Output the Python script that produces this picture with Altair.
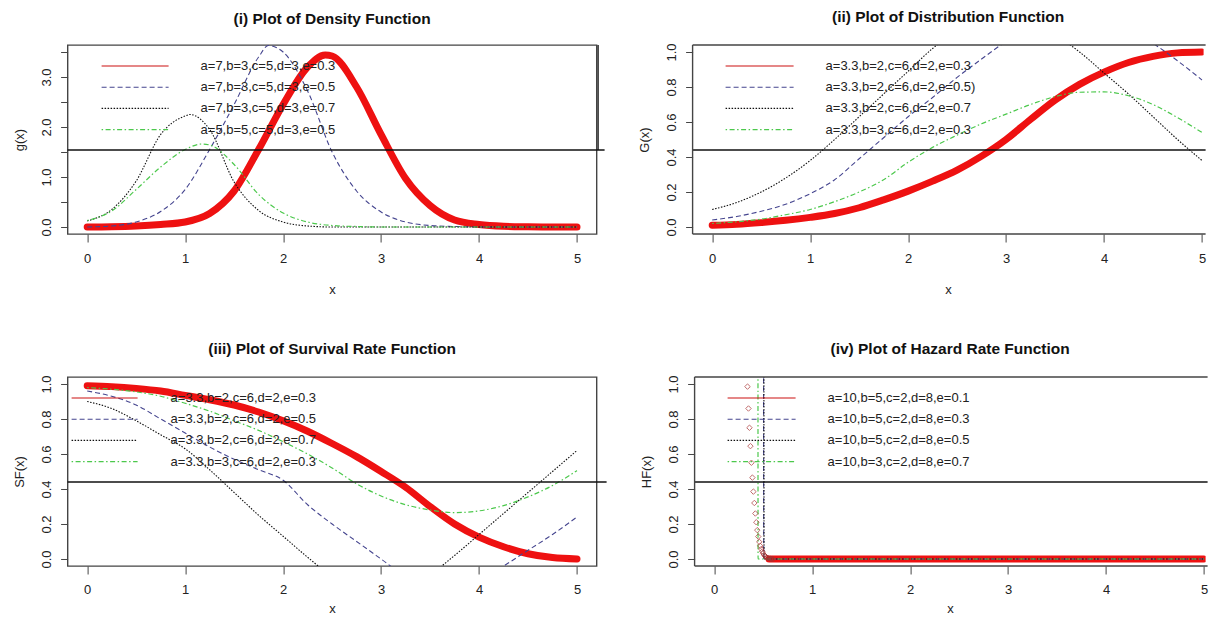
import altair as alt
import pandas as pd

FONT = "Liberation Sans"
TXT = "#222222"
AXC = "#444444"

# ---------------- data ----------------
X_GRID = [0.0, 0.25, 0.5, 0.75, 1.0, 1.25, 1.5, 1.75, 2.0, 2.25, 2.5,
          2.75, 3.0, 3.25, 3.5, 3.75, 4.0, 4.25, 4.5, 4.75, 5.0]

# (i) density g(x)
g_red_x = [0.0, 0.25, 0.5, 0.75, 1.0, 1.25, 1.5, 1.75, 2.0, 2.25, 2.43, 2.5,
           2.75, 3.0, 3.25, 3.5, 3.75, 4.0, 4.25, 4.5, 4.75, 5.0]
g_red_y = [0.0, 0.005, 0.02, 0.05, 0.1, 0.27, 0.72, 1.55, 2.45, 3.2, 3.44, 3.42,
           2.8, 1.85, 0.97, 0.43, 0.14, 0.05, 0.015, 0.005, 0.0, 0.0]
g_blue_x = [0.0, 0.25, 0.5, 0.75, 1.0, 1.25, 1.5, 1.75, 1.85, 2.0, 2.25, 2.5,
            2.75, 3.0, 3.25, 3.5, 3.75, 4.0, 4.5, 5.0]
g_blue_y = [0.0, 0.02, 0.1, 0.31, 0.75, 1.55, 2.45, 3.4, 3.63, 3.5, 2.72, 1.5,
            0.72, 0.3, 0.1, 0.03, 0.01, 0.0, 0.0, 0.0]
g_black_x = [0.0, 0.25, 0.5, 0.75, 1.0, 1.05, 1.25, 1.5, 1.75, 2.0, 2.25, 2.5,
             3.0, 4.0, 5.0]
g_black_y = [0.12, 0.35, 0.92, 1.85, 2.22, 2.25, 1.95, 0.9, 0.33, 0.1, 0.02, 0.0,
             0.0, 0.0, 0.0]
g_green_x = [0.0, 0.25, 0.5, 0.75, 1.0, 1.17, 1.25, 1.5, 1.75, 2.0, 2.25, 2.5,
             2.75, 3.0, 4.0, 5.0]
g_green_y = [0.13, 0.32, 0.75, 1.2, 1.55, 1.66, 1.64, 1.25, 0.65, 0.28, 0.1, 0.03,
             0.01, 0.0, 0.0, 0.0]

# (ii) distribution G(x)
G_red = [0.01, 0.015, 0.025, 0.038, 0.055, 0.077, 0.11, 0.155, 0.205, 0.262, 0.325,
         0.405, 0.5, 0.615, 0.725, 0.815, 0.885, 0.94, 0.975, 0.995, 1.0]
G_blue = [0.04, 0.06, 0.09, 0.13, 0.19, 0.27, 0.39, 0.51, 0.63, 0.74, 0.855,
          0.96, 1.06, 1.14, 1.2, 1.22, 1.2, 1.14, 1.05, 0.95, 0.84]
G_black = [0.1, 0.14, 0.2, 0.28, 0.38, 0.5, 0.63, 0.76, 0.89, 1.02, 1.12,
           1.18, 1.2, 1.18, 1.1, 1.0, 0.88, 0.76, 0.63, 0.5, 0.38]
G_green = [0.02, 0.03, 0.045, 0.07, 0.1, 0.145, 0.2, 0.27, 0.37, 0.455, 0.525,
           0.59, 0.645, 0.7, 0.745, 0.77, 0.772, 0.75, 0.7, 0.625, 0.54]

# (iii) survival SF(x)
S_red = [0.99, 0.985, 0.975, 0.96, 0.935, 0.91, 0.88, 0.84, 0.79, 0.73, 0.66,
         0.585, 0.5, 0.41, 0.3, 0.2, 0.125, 0.07, 0.03, 0.008, 0.0]
S_blue = [0.96, 0.93, 0.88, 0.8, 0.72, 0.64, 0.57, 0.51, 0.45, 0.31, 0.2,
          0.1, 0.0, -0.1, -0.16, -0.17, -0.12, -0.04, 0.05, 0.14, 0.24]
S_black = [0.9, 0.86, 0.79, 0.71, 0.63, 0.51, 0.38, 0.25, 0.13, 0.01, -0.1,
           -0.17, -0.2, -0.17, -0.09, 0.02, 0.14, 0.26, 0.38, 0.5, 0.62]
S_green = [0.98, 0.97, 0.955, 0.93, 0.89, 0.845, 0.79, 0.735, 0.67, 0.6, 0.52,
           0.43, 0.36, 0.31, 0.28, 0.265, 0.275, 0.305, 0.355, 0.42, 0.505]

# (iv) hazard HF(x)
H_red_x = [0.34, 0.35, 0.36, 0.37, 0.38, 0.39, 0.40, 0.41, 0.42, 0.43, 0.44, 0.45,
           0.46, 0.47, 0.48, 0.49, 0.50, 0.51, 0.52, 0.53, 0.54, 0.55, 0.56, 0.57,
           0.58, 0.59, 0.60]
H_red_y = [0.985, 0.86, 0.75, 0.645, 0.55, 0.465, 0.385, 0.32, 0.26, 0.21, 0.165,
           0.128, 0.098, 0.075, 0.057, 0.043, 0.032, 0.023, 0.016, 0.011, 0.007,
           0.005, 0.003, 0.002, 0.001, 0.0, 0.0]
H_red_tail_x = [0.56, 5.0]
H_red_tail_y = [0.0, 0.0]
H_blue_x = [0.503, 0.506, 5.0]
H_blue_y = [3.0, 0.0, 0.0]
H_black_x = [0.506, 0.509, 5.0]
H_black_y = [3.0, 0.0, 0.0]
H_green_x = [0.446, 0.448, 5.0]
H_green_y = [3.0, 0.0, 0.0]

LEG_I = ["a=7,b=3,c=5,d=3,e=0.3", "a=7,b=3,c=5,d=3,e=0.5",
         "a=7,b=3,c=5,d=3,e=0.7", "a=5,b=5,c=5,d=3,e=0.5"]
LEG_II = ["a=3.3,b=2,c=6,d=2,e=0.3", "a=3.3,b=2,c=6,d=2,e=0.5)",
          "a=3.3,b=2,c=6,d=2,e=0.7", "a=3.3,b=3,c=6,d=2,e=0.3"]
LEG_III = ["a=3.3,b=2,c=6,d=2,e=0.3", "a=3.3,b=2,c=6,d=2,e=0.5",
           "a=3.3,b=2,c=6,d=2,e=0.7", "a=3.3,b=3,c=6,d=2,e=0.3"]
LEG_IV = ["a=10,b=5,c=2,d=8,e=0.1", "a=10,b=5,c=2,d=8,e=0.3",
          "a=10,b=5,c=2,d=8,e=0.5", "a=10,b=3,c=2,d=8,e=0.7"]

X_TICKS = [0, 1, 2, 3, 4, 5]
Y_TICKS_I = [0.0, 0.5, 1.0, 1.5, 2.0, 2.5, 3.0, 3.5]
Y_TICKS_P = [0.0, 0.2, 0.4, 0.6, 0.8, 1.0]

# ---------------- styles ----------------
KEYS = ["red", "blue", "black", "green"]
STY = {
    "red": dict(color="#ee1111", w=7, dash=None),
    "blue": dict(color="#45458f", w=1.1, dash=[5, 3]),
    "black": dict(color="#111111", w=1.1, dash=[1.5, 1.5]),
    "green": dict(color="#4cc84c", w=1.2, dash=[1.5, 2.5, 5, 2.5]),
}
LEG_COL = {"red": "#cc1111", "blue": "#45458f", "black": "#111111", "green": "#4cc84c"}

PH = 189


def make_panel(title, ytitle, ydom, yticks, ylabel_expr, series, labels, width,
               xdom, leg_x0, leg_x1, leg_tx, rule_ext, right_edge, xtitle_pad,
               open_right=False, points=None):
    xa = alt.Axis(values=X_TICKS, tickSize=8, labelPadding=10, domain=False,
                  grid=False, labelFont=FONT, labelFontSize=13, labelColor=TXT,
                  tickColor=AXC, labelFlush=False, labelOverlap=False,
                  title="x", titleFont=FONT, titleFontSize=13,
                  titleFontWeight="normal", titleColor=TXT,
                  titlePadding=xtitle_pad)
    ya = alt.Axis(values=yticks, labelExpr=ylabel_expr, tickSize=7,
                  labelAngle=270, labelAlign="center", labelBaseline="bottom",
                  labelPadding=7.5, domain=False, grid=False, labelFont=FONT,
                  labelFontSize=13, labelColor=TXT, tickColor=AXC,
                  labelFlush=False, labelOverlap=False, title=ytitle,
                  titleFont=FONT, titleFontSize=13, titleFontWeight="normal",
                  titleColor=TXT, titlePadding=14)
    xs_ = alt.Scale(domain=xdom, nice=False, zero=False)
    ys_ = alt.Scale(domain=ydom, nice=False, zero=False)

    def enc():
        return dict(x=alt.X("x:Q", scale=xs_, axis=xa), y=alt.Y("y:Q", scale=ys_, axis=ya))

    layers = []
    for key, xs, ys in series:
        st = STY[key]
        df = pd.DataFrame({"x": xs, "y": ys})
        kw = dict(clip=True, interpolate="monotone", color=st["color"],
                  strokeWidth=st["w"], strokeCap="round" if key == "red" else "butt")
        if st["dash"]:
            kw["strokeDash"] = st["dash"]
        layers.append(alt.Chart(df).mark_line(**kw).encode(**enc()))
    if points is not None:
        xs, ys = points
        df = pd.DataFrame({"x": xs, "y": ys})
        layers.append(alt.Chart(df).mark_point(shape="diamond", size=30, filled=False,
                                               color="#a83030", strokeWidth=1, clip=True)
                      .encode(**enc()))

    # legend drawn inside the plot, as in the original
    row0, gap = 21, 21.2
    for i, (key, lab) in enumerate(zip(KEYS, labels)):
        yy = row0 + i * gap
        ldf = pd.DataFrame({"label": [lab]})
        kw = dict(color=LEG_COL[key], strokeWidth=1.1)
        if STY[key]["dash"]:
            kw["strokeDash"] = STY[key]["dash"]
        layers.append(alt.Chart(ldf).mark_rule(**kw).encode(
            x=alt.value(leg_x0), x2=alt.value(leg_x1), y=alt.value(yy)))
        layers.append(alt.Chart(ldf).mark_text(align="left", baseline="middle", font=FONT,
                                               fontSize=13, color=TXT).encode(
            x=alt.value(leg_tx), y=alt.value(yy), text="label:N"))
    # legend frame bottom
    box = pd.DataFrame({"label": ["frame"]})
    layers.append(alt.Chart(box).mark_rule(color="#111111", strokeWidth=1.3).encode(
        x=alt.value(0), x2=alt.value(width + rule_ext), y=alt.value(105)))
    if right_edge:
        layers.append(alt.Chart(box).mark_rule(color="#111111", strokeWidth=1.3).encode(
            x=alt.value(width + 1.5), y=alt.value(0), y2=alt.value(105)))
    props = dict(
        width=width, height=PH,
        title=alt.TitleParams(text=title, font=FONT, fontSize=15.5, fontWeight="bold",
                              color="#111111", anchor="middle", frame="group", offset=17),
    )
    if open_right:
        # plot frame continues past the page edge in the original: no right side
        for (a, b, c, d) in [(0, width + rule_ext, 0, None), (0, width + rule_ext, PH, None),
                             (0, None, 0, PH)]:
            e = dict(x=alt.value(a), y=alt.value(c))
            if b is not None:
                e["x2"] = alt.value(b)
            if d is not None:
                e["y2"] = alt.value(d)
            layers.append(alt.Chart(box).mark_rule(color=AXC, strokeWidth=1.4).encode(**e))
        props["view"] = alt.ViewBackground(stroke=None)
    return alt.layer(*layers).properties(**props)


LBL_I = "datum.value % 1 === 0 ? format(datum.value, '.1f') : ''"
LBL_P = "format(datum.value, '.1f')"

W1 = 529
W2 = 511
XD1 = [-0.2, 5.2]
XD2 = [-0.2, -0.2 + W2 / (W1 / 5.4)]

p1 = make_panel("(i) Plot of Density Function", "g(x)", [-0.14, 3.64], Y_TICKS_I, LBL_I,
                [("red", g_red_x, g_red_y), ("blue", g_blue_x, g_blue_y),
                 ("black", g_black_x, g_black_y), ("green", g_green_x, g_green_y)],
                LEG_I, W1, XD1, 34, 101, 133, 8, True, 18)
p2 = make_panel("(ii) Plot of Distribution Function", "G(x)", [-0.04, 1.04], Y_TICKS_P, LBL_P,
                [("red", X_GRID, G_red), ("blue", X_GRID, G_blue),
                 ("black", X_GRID, G_black), ("green", X_GRID, G_green)],
                LEG_II, W2, XD2, 33, 101, 133, 2, False, 18, open_right=True)
p3 = make_panel("(iii) Plot of Survival Rate Function", "SF(x)", [-0.04, 1.04], Y_TICKS_P, LBL_P,
                [("red", X_GRID, S_red), ("blue", X_GRID, S_blue),
                 ("black", X_GRID, S_black), ("green", X_GRID, S_green)],
                LEG_III, W1, XD1, 4, 70, 103, 10, False, 6)
p4 = make_panel("(iv) Plot of Hazard Rate Function", "HF(x)", [-0.04, 1.04], Y_TICKS_P, LBL_P,
                [("red", H_red_tail_x, H_red_tail_y), ("blue", H_blue_x, H_blue_y),
                 ("black", H_black_x, H_black_y), ("green", H_green_x, H_green_y)],
                LEG_IV, W2, XD2, 33, 101, 133, 2, False, 6, open_right=True,
                points=(H_red_x, H_red_y))

row1 = alt.hconcat(p1, p2, spacing=31)
row2 = alt.hconcat(p3, p4, spacing=31)
chart = alt.vconcat(row1, row2, spacing=44).properties(
    padding={"left": 3.6, "top": 2, "right": 0, "bottom": 0},
    background="white",
).configure_view(stroke=AXC, strokeWidth=1.4)

chart.save("out.html", embed_options={"renderer": "svg", "actions": False})
